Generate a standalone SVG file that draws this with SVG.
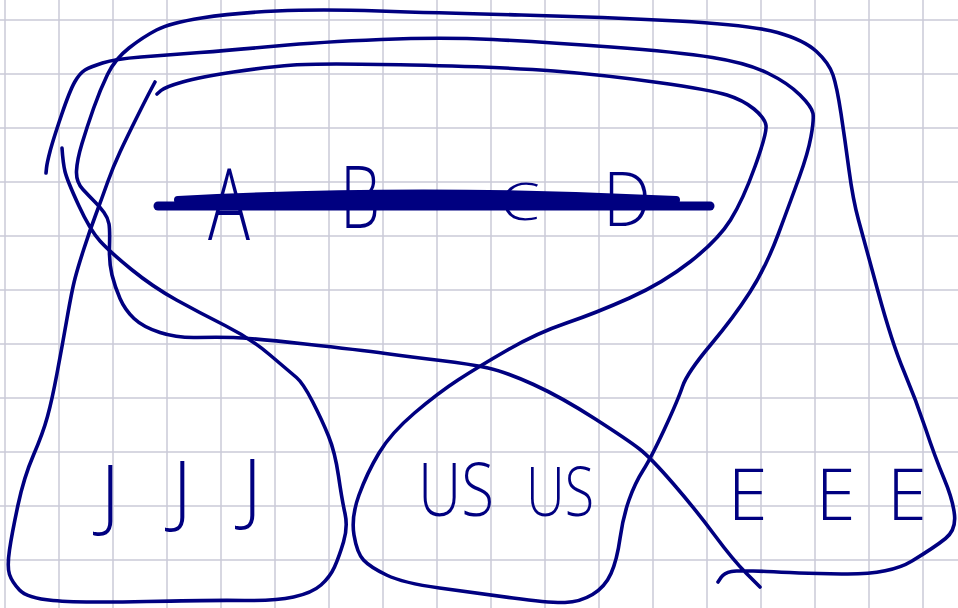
<svg xmlns="http://www.w3.org/2000/svg" width="958" height="608" viewBox="0 0 958 608">
<style>
.grid{stroke:#cacad8;stroke-width:1.5;fill:none}
.ink{stroke:#000080;stroke-width:3.6;fill:none;stroke-linecap:round;stroke-linejoin:round}
.strike{stroke:#000080;fill:none;stroke-linecap:round}
.hw{font-family:"Open Sans","DejaVu Sans",sans-serif;font-weight:300;fill:#000080}
</style>
<rect width="958" height="608" fill="#ffffff"/>
<g id="grid">
<path class="grid" d="M5,0V608M59,0V608M113,0V608M167,0V608M221,0V608M275,0V608M329,0V608M383,0V608M437,0V608M491,0V608M545,0V608M599,0V608M653,0V608M707,0V608M761,0V608M815,0V608M869,0V608M923,0V608M0,20H958M0,74H958M0,128H958M0,182H958M0,236H958M0,290H958M0,344H958M0,398H958M0,452H958M0,506H958M0,560H958"/>
</g>
<g id="set-abcd">
<text class="hw" x="208" y="240" font-size="100" textLength="42" lengthAdjust="spacingAndGlyphs">A</text>
<text class="hw" x="340" y="228" font-size="86" textLength="40" lengthAdjust="spacingAndGlyphs">B</text>
<text class="hw" x="500" y="220" font-size="52" textLength="40" lengthAdjust="spacingAndGlyphs">C</text>
<text class="hw" x="603" y="226" font-size="75" textLength="48" lengthAdjust="spacingAndGlyphs">D</text>
<path class="strike" stroke-width="9" d="M158,206 L710,206"/>
<path class="strike" stroke-width="8" d="M178,200 Q420,187 676,200"/>
<path class="strike" stroke-width="6" d="M185,203 Q400,196 660,203"/>
</g>
<g id="set-jjj">
<path class="ink" d="M155,82 L151,89.5 Q147,97 137,117 Q127,137 120,152 Q113,167 107.5,182.5 Q102,198 96,214 Q90,230 84,248.5 Q78,267 75,278.5 Q72,290 67,318.5 Q62,347 57,373.5 Q52,400 47.5,416.5 Q43,433 33.5,455 Q24,477 18,505 Q12,533 9.5,550 Q7,567 9.5,574.5 Q12,582 19.5,590 Q27,598 53,600.5 Q79,603 146.5,601.5 Q214,600 244.5,600.5 Q275,601 293.5,597 Q312,593 321,585 Q330,577 334.5,567 Q339,557 343.5,542 Q348,527 345,513.5 Q342,500 338.5,476 Q335,452 328.5,436 Q322,420 312.5,401.5 Q303,383 296.5,377.5 Q290,372 270,355 Q250,338 225,325.5 Q200,313 176.5,300 Q153,287 131.5,269.5 Q110,252 100,241 Q90,230 78.5,205 Q67,180 65,171.5 Q63,163 62,148"/>
<text class="hw" font-size="80" text-anchor="middle"><tspan x="110" y="522">J</tspan><tspan x="182" y="518">J</tspan><tspan x="252" y="516">J</tspan></text>
</g>
<g id="set-usus">
<path class="ink" d="M157,94 L161,90.5 Q165,87 182.5,82 Q200,77 233.5,72 Q267,67 293.5,65 Q320,63 411.5,65 Q503,67 554,71 Q605,75 658,82.5 Q711,90 727,95 Q743,100 754,109 Q765,118 766,125.5 Q767,133 755,166.5 Q743,200 730.5,220 Q718,240 690.5,261.5 Q663,283 629.5,298 Q596,313 566.5,323 Q537,333 507.5,350 Q478,367 458,380 Q438,393 414.5,413 Q391,433 379,453 Q367,473 359,495 Q351,517 354,535 Q357,553 363.5,560 Q370,567 386.5,575 Q403,583 439.5,588 Q476,593 513,598 Q550,603 565,602.5 Q580,602 592.5,594.5 Q605,587 611,573.5 Q617,560 620,538.5 Q623,517 629,500 Q635,483 643,470.5 Q651,458 664.5,429 Q678,400 682.5,386.5 Q687,373 710.5,345 Q734,317 750,292 Q766,267 778.5,233.5 Q791,200 799.5,176.5 Q808,153 811,136.5 Q814,120 813,113.5 Q812,107 800,95 Q788,83 767.5,73 Q747,63 712.5,57.5 Q678,52 611,47 Q544,42 493,39.5 Q442,37 381,39.5 Q320,42 276.5,46 Q233,50 200,52.5 Q167,55 141,57 Q115,59 102.5,63 Q90,67 85,70 Q80,73 75,81.5 Q70,90 61.5,115 Q53,140 50,151.5 Q47,163 46.5,168 L46,173"/>
<text class="hw" x="418" y="516" font-size="74" textLength="76" lengthAdjust="spacingAndGlyphs">US</text>
<text class="hw" x="526" y="516" font-size="68" textLength="68" lengthAdjust="spacingAndGlyphs">US</text>
</g>
<g id="set-eee">
<path class="ink" d="M760,587 L746.5,573.5 Q733,560 714.5,535 Q696,510 673.5,484 Q651,458 639.5,449 Q628,440 594.5,418.5 Q561,397 533.5,384.5 Q506,372 488,368 Q470,364 440.5,360.5 Q411,357 385.5,353.5 Q360,350 305,344 Q250,338 233.5,337.5 Q217,337 197,337.5 Q177,338 160,332.5 Q143,327 134,318.5 Q125,310 120,298.5 Q115,287 112,275 Q109,263 109.5,246.5 Q110,230 109,224 Q108,218 104,212.5 Q100,207 95,202 Q90,197 83,189.5 Q76,182 76.5,171 Q77,160 82,143.5 Q87,127 93.5,108.5 Q100,90 107.5,74.5 Q115,59 129,48 Q143,37 156.5,30 Q170,23 201.5,18 Q233,13 276.5,11 Q320,9 379,11 Q438,13 521.5,15 Q605,17 678,21 Q751,25 777.5,32.5 Q804,40 816.5,51.5 Q829,63 833,75 Q837,87 841,113.5 Q845,140 849,170 Q853,200 858.5,220 Q864,240 878,291.5 Q892,343 904,371.5 Q916,400 925.5,428.5 Q935,457 944,478.5 Q953,500 954.5,515 Q956,530 945.5,538.5 Q935,547 912,561 Q889,575 841.5,574 Q794,573 766.5,571.5 Q739,570 731.5,571.5 Q724,573 721,577.5 L718,582"/>
<text class="hw" font-size="72" text-anchor="middle"><tspan x="757" y="520">E</tspan> <tspan x="845" y="520">E</tspan> <tspan x="907" y="520">E</tspan></text>
</g>
</svg>
